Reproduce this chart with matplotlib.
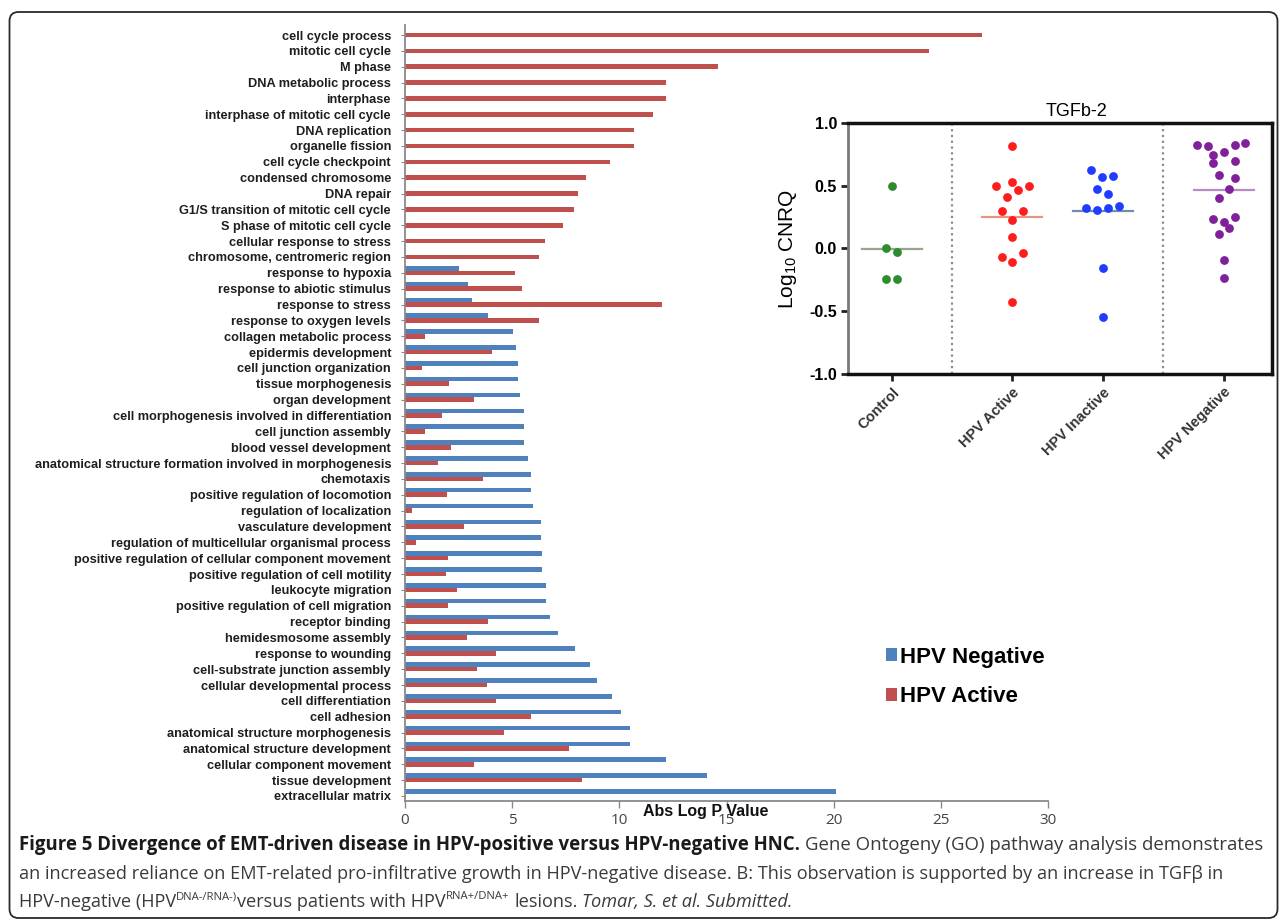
import matplotlib
matplotlib.use('Agg')
import matplotlib.pyplot as plt
import numpy as np
from matplotlib.patches import FancyBboxPatch
from matplotlib.transforms import IdentityTransform

plt.rcParams['font.family'] = ['Liberation Sans', 'DejaVu Sans']

#%% GO pathway data (top to bottom, as in the figure)
go_terms = [
    'cell cycle process', 'mitotic cell cycle', 'M phase', 'DNA metabolic process',
    'interphase', 'interphase of mitotic cell cycle', 'DNA replication',
    'organelle fission', 'cell cycle checkpoint', 'condensed chromosome',
    'DNA repair', 'G1/S transition of mitotic cell cycle',
    'S phase of mitotic cell cycle', 'cellular response to stress',
    'chromosome, centromeric region', 'response to hypoxia',
    'response to abiotic stimulus', 'response to stress',
    'response to oxygen levels', 'collagen metabolic process',
    'epidermis development', 'cell junction organization',
    'tissue morphogenesis', 'organ development',
    'cell morphogenesis involved in differentiation', 'cell junction assembly',
    'blood vessel development',
    'anatomical structure formation involved in morphogenesis', 'chemotaxis',
    'positive regulation of locomotion', 'regulation of localization',
    'vasculature development', 'regulation of multicellular organismal process',
    'positive regulation of cellular component movement',
    'positive regulation of cell motility', 'leukocyte migration',
    'positive regulation of cell migration', 'receptor binding',
    'hemidesmosome assembly', 'response to wounding',
    'cell-substrate junction assembly', 'cellular developmental process',
    'cell differentiation', 'cell adhesion',
    'anatomical structure morphogenesis', 'anatomical structure development',
    'cellular component movement', 'tissue development', 'extracellular matrix',
]
hpv_negative = [
    0, 0, 0, 0, 0, 0, 0, 0, 0, 0, 0, 0, 0, 0, 0,
    2.52, 2.94, 3.12, 3.89, 5.02, 5.2, 5.29, 5.29, 5.37, 5.54, 5.54, 5.54,
    5.73, 5.89, 5.89, 5.97, 6.33, 6.33, 6.41, 6.41, 6.59, 6.59, 6.78, 7.13,
    7.92, 8.61, 8.96, 9.65, 10.07, 10.51, 10.51, 12.18, 14.07, 20.1,
]
hpv_active = [
    26.9, 24.45, 14.6, 12.2, 12.2, 11.55, 10.7, 10.7, 9.55, 8.43, 8.07, 7.9,
    7.39, 6.51, 6.27, 5.12, 5.47, 12.0, 6.24, 0.95, 4.06, 0.77, 2.05, 3.2,
    1.73, 0.93, 2.14, 1.54, 3.64, 1.97, 0.31, 2.77, 0.49, 1.99, 1.89, 2.43,
    1.99, 3.88, 2.87, 4.26, 3.37, 3.82, 4.26, 5.9, 4.6, 7.63, 3.22, 8.24, 0,
]

#%% TGFb-2 qPCR data (Log10 CNRQ) and horizontal spread of the dots
groups = ['Control', 'HPV Active', 'HPV Inactive', 'HPV Negative']
control = [0.495, 0.0, -0.025, -0.245, -0.245]
control_dx = [0, -6, 5, -6, 5]
hpv_act = [0.814, 0.495, 0.53, 0.47, 0.495, 0.41, 0.296, 0.296, 0.225,
           0.094, -0.068, -0.033, -0.11, -0.43]
hpv_act_dx = [0, -16, 0, 6, 17, -5, -10, 11, 0, 0, -10, 11, 0, 0]
hpv_inact = [0.625, 0.57, 0.575, 0.477, 0.434, 0.325, 0.304, 0.32, 0.336,
             -0.158, -0.546]
hpv_inact_dx = [-12, -1, 10, -6, 5, -17, -6, 5, 16, 0, 0]
hpv_neg = [0.827, 0.82, 0.827, 0.84, 0.742, 0.77, 0.681, 0.697, 0.588,
           0.562, 0.477, 0.405, 0.232, 0.214, 0.251, 0.116, 0.16, -0.089,
           -0.238]
hpv_neg_dx = [-27, -16, 11, 21, -11, 0, -11, 11, -5, 11, 5, -5, -11, 0, 11,
              -5, 5, 0, 0]

#%% Figure
fig = plt.figure(figsize=(12.82, 9.21), dpi=100)

# rounded frame around the whole figure
frame = FancyBboxPatch((9.5, 3), 1268, 906, boxstyle='round,pad=0,rounding_size=9',
                       transform=IdentityTransform(), fill=False,
                       edgecolor='#2a2a2a', lw=1.3)
fig.add_artist(frame)

#%% Bar chart
ax = fig.add_axes([405 / 1282, 1 - 800.75 / 921, 643 / 1282, 775.25 / 921])
n = len(go_terms)
ypos = np.arange(n)[::-1]
ax.barh(ypos + 0.29, hpv_negative, height=0.29, color='#4f81bd', label='HPV Negative')
ax.barh(ypos, hpv_active, height=0.29, color='#c0504d', label='HPV Active')
ax.set_ylim(-0.3, n - 1 + 0.6)
ax.set_xlim(0, 30)
ax.set_yticks(ypos)
ax.set_yticklabels(go_terms, fontsize=9.2, fontweight='bold', color='#1e1e1e')
ax.set_xticks(np.arange(0, 31, 5))
ax.set_xticklabels([str(v) for v in range(0, 31, 5)], fontsize=11,
                   family=['Open Sans', 'DejaVu Sans'], color='#444444')
ax.tick_params(axis='y', length=3, width=0.8, color='#8a8a8a', pad=7)
ax.tick_params(axis='x', length=5, width=1, color='#8a8a8a', pad=4)
for s in ['top', 'right']:
    ax.spines[s].set_visible(False)
for s in ['left', 'bottom']:
    ax.spines[s].set_color('#8a8a8a')
    ax.spines[s].set_linewidth(1.3)
ax.set_xlabel('Abs Log P Value', fontsize=11.5, fontweight='bold', color='#111111')
ax.xaxis.set_label_coords((706 - 405) / 643, -0.004)

ax.legend(loc='center left', bbox_to_anchor=(866 / 1282, 1 - 677 / 921),
          bbox_transform=fig.transFigure, frameon=False,
          handlelength=0.5, handleheight=0.5, handletextpad=0.15,
          labelspacing=0.85, prop=dict(weight='bold', size=16))

#%% Inset scatter
ax2 = fig.add_axes([848 / 1282, 1 - 374 / 921, 424 / 1282, 251 / 921])
xpos = [44, 164, 255, 376]
sep = [104, 315]
series = [(control, control_dx, '#2e8b2e', '#9aa38c'),
          (hpv_act, hpv_act_dx, '#ff1c1c', '#e8957f'),
          (hpv_inact, hpv_inact_dx, '#1f3cff', '#6f8db3'),
          (hpv_neg, hpv_neg_dx, '#80209a', '#b58dc2')]
for x0, (vals, dx, c, lc) in zip(xpos, series):
    ax2.scatter(x0 + np.array(dx), vals, s=40, color=c, zorder=3, linewidths=0)
    m = np.mean(vals)
    ax2.plot([x0 - 30, x0 + 30], [m, m], color=lc, lw=1.6, zorder=2)
for xs in sep:
    ax2.axvline(xs, color='#8c8c8c', ls=(0, (1, 1.6)), lw=1.6)
ax2.set_xlim(0, 424)
ax2.set_ylim(-1, 1)
ax2.set_yticks([-1, -0.5, 0, 0.5, 1])
ax2.set_yticklabels(['-1.0', '-0.5', '0.0', '0.5', '1.0'], fontsize=11.5,
                    fontweight='bold')
ax2.set_xticks(xpos)
ax2.set_xticklabels(groups, rotation=45, ha='right', rotation_mode='anchor',
                    fontsize=10.5, fontweight='bold', color='#333333')
ax2.tick_params(length=5, width=2, color='#222222', pad=3)
for s in ['top', 'right', 'bottom']:
    ax2.spines[s].set_linewidth(2.5)
    ax2.spines[s].set_color('#111111')
ax2.spines['left'].set_linewidth(2)
ax2.spines['left'].set_color('#7a7a7a')
ax2.set_title('TGFb-2', fontsize=13, x=0.54, pad=5)
ax2.set_ylabel(r'Log$_{\mathregular{10}}$ CNRQ', fontsize=15, labelpad=7)

#%% Caption, laid out run by run
cap_font = ['Open Sans', 'DejaVu Sans']
cap_lines = [
    [('Figure 5 Divergence of EMT-driven disease in HPV-positive versus HPV-negative HNC.', 'bold', 0),
     ('Gene Ontogeny (GO) pathway analysis demonstrates', 'normal', 1)],
    [('an increased reliance on EMT-related pro-infiltrative growth in HPV-negative disease. '
      'B: This observation is supported by an increase in TGF\u03b2 in', 'normal', 0)],
    [('HPV-negative (HPV', 'normal', 0), ('DNA-/RNA-)', 'sup', 0),
     ('versus patients with HPV', 'normal', 0), ('RNA+/DNA+', 'sup', 0),
     ('lesions.', 'normal', 1), ('Tomar, S. et al. Submitted.', 'italic', 1)],
]
cap_baselines = [71, 42, 14]
cap_right = [1264, 1222, None]
renderer = fig.canvas.get_renderer()


def draw_line(runs, x0, y0, fs):
    probe = [fig.text(0, 0, s, fontsize=fs, family=cap_font) for s in ('x x', 'xx')]
    space_w = (probe[0].get_window_extent(renderer).width
               - probe[1].get_window_extent(renderer).width)
    for p in probe:
        p.remove()
    texts = []
    x = x0
    for txt, style, gap in runs:
        kw = dict(fontsize=fs, family=cap_font, color='#3a3a3a')
        yy = y0
        if style == 'bold':
            kw.update(weight='bold', color='#1a1a1a')
        elif style == 'italic':
            kw.update(style='italic')
        elif style == 'sup':
            kw['fontsize'] = fs * 0.62
            yy = y0 + fs * 100 / 72 * 0.42
        x += gap * space_w
        t = fig.text(x, yy, txt, transform=IdentityTransform(), ha='left',
                     va='baseline', **kw)
        x = t.get_window_extent(renderer).x1
        texts.append(t)
    return texts, x


fs = 12
for runs, yb, xr in zip(cap_lines, cap_baselines, cap_right):
    if xr is not None:
        tmp, xend = draw_line(runs, 19, yb, 12)
        for t in tmp:
            t.remove()
        fs = 12 * (xr - 19) / (xend - 19)
    draw_line(runs, 19, yb, fs)

fig.savefig('out.png', dpi=100)
